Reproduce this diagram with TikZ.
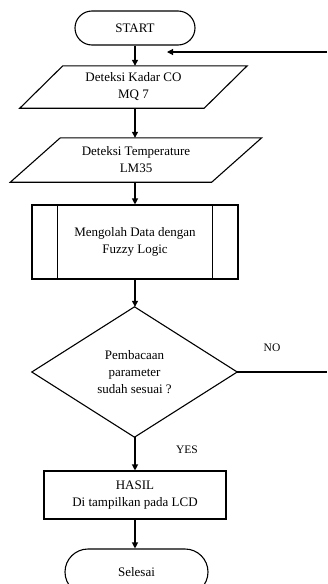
\documentclass[tikz,border=0pt]{standalone}
\usepackage{fontspec}
\setmainfont{Liberation Serif}
\usetikzlibrary{arrows.meta,calc}
\begin{document}
\begin{tikzpicture}[x=1pt,y=-1pt,
  every node/.style={font=\fontsize{13}{17}\selectfont, align=center, inner sep=0pt},
  thk/.style={line width=1.1pt},
  arr/.style={line width=1.1pt, -{Triangle[length=6pt,width=6pt]}},
  lbl/.style={font=\fontsize{11.5}{14}\selectfont}
]
\useasboundingbox (0,0) rectangle (327,584);
\clip (0,0) rectangle (327,584);

\node[draw, thk, rounded corners=17pt, minimum width=120pt, minimum height=34pt] (start) at (135,28) {START};

\node[minimum width=227pt, minimum height=42pt] (p1) at (133.5,87) {Deteksi Kadar CO\\MQ 7};
\draw[thk] ($(p1.north west)+(43,0)$) -- (p1.north east) -- ($(p1.south east)+(-43,0)$) -- (p1.south west) -- cycle;

\node[minimum width=251pt, minimum height=44pt] (p2) at (136,160) {Deteksi Temperature\\LM35};
\draw[thk] ($(p2.north west)+(50,0)$) -- (p2.north east) -- ($(p2.south east)+(-50,0)$) -- (p2.south west) -- cycle;

\node[draw, thk, minimum width=206pt, minimum height=74pt] (proc) at (135,242) {Mengolah Data dengan\\Fuzzy Logic};
\draw[thk] ($(proc.north west)+(26,0)$) -- ($(proc.south west)+(26,0)$);
\draw[thk] ($(proc.north east)+(-26,0)$) -- ($(proc.south east)+(-26,0)$);

\node[minimum width=205pt, minimum height=130pt] (dec) at (134.5,372) {Pembacaan\\parameter\\sudah sesuai ?};
\draw[thk] (dec.north) -- (dec.east) -- (dec.south) -- (dec.west) -- cycle;

\node[draw, thk, minimum width=182pt, minimum height=48pt] (res) at (135,495) {HASIL\\Di tampilkan pada LCD};
\node[draw, thk, rounded corners=23pt, minimum width=143pt, minimum height=46pt] (fin) at (136.5,572) {Selesai};

\draw[arr] (start.south) -- (start.south |- p1.north);
\draw[arr] (start.south |- p1.south) -- (start.south |- p2.north);
\draw[arr] (start.south |- p2.south) -- (start.south |- proc.north);
\draw[arr] (start.south |- proc.south) -- (start.south |- dec.north);
\draw[arr] (start.south |- dec.south) -- (start.south |- res.north);
\draw[arr] (start.south |- res.south) -- (start.south |- fin.north);

\coordinate (fbR) at (327,52);
\coordinate (fbL) at (167,52);
\coordinate (noR) at (327,372);
\draw[arr] (fbR) -- (fbL);
\draw[thk] (dec.east) -- (noR);

\node[lbl] (no) at (272,348) {NO};
\node[lbl] (yes) at (187,450) {YES};
\end{tikzpicture}
\end{document}
